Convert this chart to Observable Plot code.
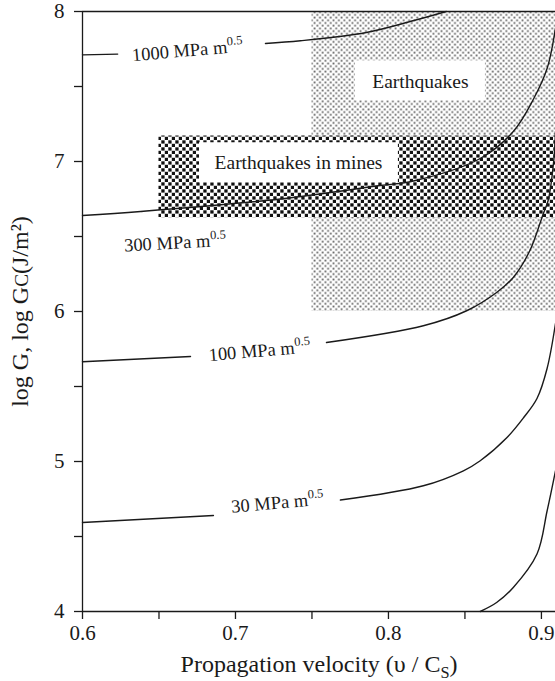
<!DOCTYPE html>
<html><head><meta charset="utf-8">
<script src="https://cdn.jsdelivr.net/npm/d3@7"></script>
<script src="https://cdn.jsdelivr.net/npm/@observablehq/plot@0.6"></script>
<style>
body{margin:0;background:#fff}
svg{font-family:"Liberation Serif","Times New Roman",serif}
</style>
</head><body><div id="chart"></div>
<script>
// ---- axes ----
const xDomain = [0.6, 0.9092];
const yDomain = [4, 8];
const xTicks = [0.6, 0.65, 0.7, 0.75, 0.8, 0.85, 0.9];
const xTickLabels = ["0.6", "", "0.7", "", "0.8", "", "0.9"];
const yTicks = [4, 4.5, 5, 5.5, 6, 6.5, 7, 7.5, 8];
const yTickLabels = ["4", "", "5", "", "6", "", "7", "", "8"];
const xTitle = "Propagation velocity (υ / C_{S})";
const yTitle = "log G, log G~{C}(J/m²)";

// ---- curves (constant K), null = gap where the label sits ----
const curveNames = ["1000", "300", "100", "30", "10"];
const c1000X = [0.6, 0.623, null, 0.7196, 0.7425, 0.7856, 0.816, 0.8378];
const c1000Y = [7.711, 7.716, null, 7.787, 7.805, 7.86, 7.938, 8.0];
const c300X = [0.6, 0.638, 0.7294, 0.7947, 0.8163, 0.86, 0.8816, 0.895, 0.9037, 0.9092];
const c300Y = [6.64, 6.667, 6.75, 6.84, 6.87, 7.02, 7.2, 7.42, 7.62, 7.89];
const c100X = [0.6, 0.6706, null, 0.7595, 0.8228, 0.8511, 0.8707, 0.8816, 0.8924, 0.9011, 0.9044, 0.908, 0.9092];
const c100Y = [5.665, 5.70, null, 5.793, 5.905, 6.005, 6.127, 6.227, 6.405, 6.649, 6.74, 7.0, 7.2];
const c30X = [0.6, 0.6856, null, 0.7686, 0.8228, 0.849, 0.86, 0.8775, 0.8884, 0.8971, 0.9037, 0.9092];
const c30Y = [4.593, 4.64, null, 4.743, 4.838, 4.938, 5.005, 5.16, 5.293, 5.42, 5.62, 5.92];
const c10X = [0.86, 0.8707, 0.8816, 0.8971, 0.9037, 0.9092];
const c10Y = [4.0, 4.06, 4.16, 4.383, 4.67, 4.938];

// ---- curve labels ----
const curveLabels = ["1000 MPa m^{0.5}", "300 MPa m^{0.5}", "100 MPa m^{0.5}", "30 MPa m^{0.5}"];
const curveLabelX = [0.6686, 0.6605, 0.7157, 0.7275];
const curveLabelY = [7.74, 6.458, 5.738, 4.725];
const curveLabelAngle = [-5, -3, -5, -5];

// ---- shaded regions ----
const regionNames = ["Earthquakes", "Earthquakes in mines"];
const regionX1 = [0.75, 0.65];
const regionX2 = [0.9092, 0.9092];
const regionY1 = [6.0, 6.625];
const regionY2 = [8.0, 7.17];
const regionFill = ["url(#dotsLight)", "url(#dotsDense)"];
// white label boxes + label positions
const boxX1 = [0.7784, 0.6765];
const boxX2 = [0.8634, 0.8065];
const boxY1 = [7.405, 6.858];
const boxY2 = [7.671, 7.125];
const regionLabelX = [0.8209, 0.7412];
const regionLabelY = [7.531, 6.991];

const curveXs = [c1000X, c300X, c100X, c30X, c10X];
const curveYs = [c1000Y, c300Y, c100Y, c30Y, c10Y];
const curveRows = [];
curveNames.forEach((n, k) => curveXs[k].forEach((x, i) => curveRows.push({curve: n, x, y: curveYs[k][i]})));
const regions = regionNames.map((name, i) => ({name, x1: regionX1[i], x2: regionX2[i], y1: regionY1[i], y2: regionY2[i], fill: regionFill[i]}));
const boxes = regionNames.map((name, i) => ({name, x1: boxX1[i], x2: boxX2[i], y1: boxY1[i], y2: boxY2[i], lx: regionLabelX[i], ly: regionLabelY[i]}));
const labels = curveLabels.map((t, i) => ({t, x: curveLabelX[i], y: curveLabelY[i], a: curveLabelAngle[i]}));

const ink = "#1a1a1a";
const chart = Plot.plot({
  width: 555,
  height: 681,
  marginLeft: 82,
  marginRight: 0,
  marginTop: 11,
  marginBottom: 70,
  style: {color: ink, background: "#fff", fontFamily: "'Liberation Serif', serif"},
  x: {domain: xDomain},
  y: {domain: yDomain},
  marks: [
    Plot.rect(regions, {x1: "x1", x2: "x2", y1: "y1", y2: "y2", fill: d => d.fill}),
    Plot.rect(boxes, {x1: "x1", x2: "x2", y1: "y1", y2: "y2", fill: "white"}),
    Plot.text(boxes, {x: "lx", y: "ly", text: "name", fontSize: 19.5, fill: ink}),
    Plot.line(curveRows, {x: "x", y: "y", z: "curve", stroke: ink, strokeWidth: 1.4, curve: "catmull-rom"}),
    Plot.text(labels, {x: "x", y: "y", text: "t", rotate: "a", fontSize: 18.5, fill: ink}),
    Plot.ruleY([yDomain[1]], {stroke: ink, strokeWidth: 1.3}),
    Plot.ruleY([yDomain[0]], {stroke: ink, strokeWidth: 1.3}),
    Plot.ruleX([xDomain[0]], {stroke: ink, strokeWidth: 1.3}),
    Plot.axisX(xTicks, {tickFormat: d => xTickLabels[xTicks.indexOf(d)], tickSize: 8, tickPadding: 6, fontSize: 21, label: null, strokeWidth: 1.3}),
    Plot.axisY(yTicks, {tickFormat: d => yTickLabels[yTicks.indexOf(d)], tickSize: 8, tickPadding: 10, fontSize: 21, label: null, strokeWidth: 1.3}),
    Plot.text([xTitle], {frameAnchor: "bottom", lineAnchor: "middle", dy: 53, fontSize: 24, fill: ink}),
    Plot.text([yTitle], {frameAnchor: "left", textAnchor: "middle", lineAnchor: "middle", dx: -62, rotate: -90, fontSize: 24, fill: ink})
  ]
});

// patterns
const defs = d3.select(chart).insert("defs", ":first-child");
const p1 = defs.append("pattern").attr("id", "dotsLight").attr("patternUnits", "userSpaceOnUse").attr("width", 5.4).attr("height", 5.4);
p1.append("rect").attr("width", 5.4).attr("height", 5.4).attr("fill", "#fff");
p1.append("rect").attr("x", 0.5).attr("y", 0.5).attr("width", 1.8).attr("height", 1.8).attr("fill", "#666");
p1.append("rect").attr("x", 3.2).attr("y", 3.2).attr("width", 1.8).attr("height", 1.8).attr("fill", "#666");
const p2 = defs.append("pattern").attr("id", "dotsDense").attr("patternUnits", "userSpaceOnUse").attr("width", 7).attr("height", 7);
p2.append("rect").attr("width", 7).attr("height", 7).attr("fill", "#fff");
p2.append("rect").attr("x", 0.3).attr("y", 0.3).attr("width", 3.3).attr("height", 3.3).attr("fill", "#111");
p2.append("rect").attr("x", 3.8).attr("y", 3.8).attr("width", 3.3).attr("height", 3.3).attr("fill", "#111");

// rich text: ^{sup}, _{sub}, ~{small}
chart.querySelectorAll("text").forEach(t => {
  const s = t.textContent;
  const re = /([\^_~])\{([^}]*)\}/g;
  if (!re.test(s)) return;
  re.lastIndex = 0;
  while (t.firstChild) t.removeChild(t.firstChild);
  const ns = "http://www.w3.org/2000/svg";
  let last = 0, m, shift = 0;
  const add = (txt, dy, size) => {
    const sp = document.createElementNS(ns, "tspan");
    if (dy) sp.setAttribute("dy", dy + "em");
    if (size) sp.setAttribute("font-size", size + "%");
    sp.textContent = txt;
    t.appendChild(sp);
  };
  while ((m = re.exec(s))) {
    if (m.index > last) { add(s.slice(last, m.index), -shift, null); shift = 0; }
    if (m[1] === "^") { add(m[2], -0.6, 68); shift = -0.6 * 0.68; }
    else if (m[1] === "_") { add(m[2], 0.35, 68); shift = 0.35 * 0.68; }
    else { add(m[2], -shift, 80); shift = 0; }
    last = m.index + m[0].length;
  }
  if (last < s.length) add(s.slice(last), -shift, null);
});

document.getElementById("chart").appendChild(chart);
</script>
</body></html>
